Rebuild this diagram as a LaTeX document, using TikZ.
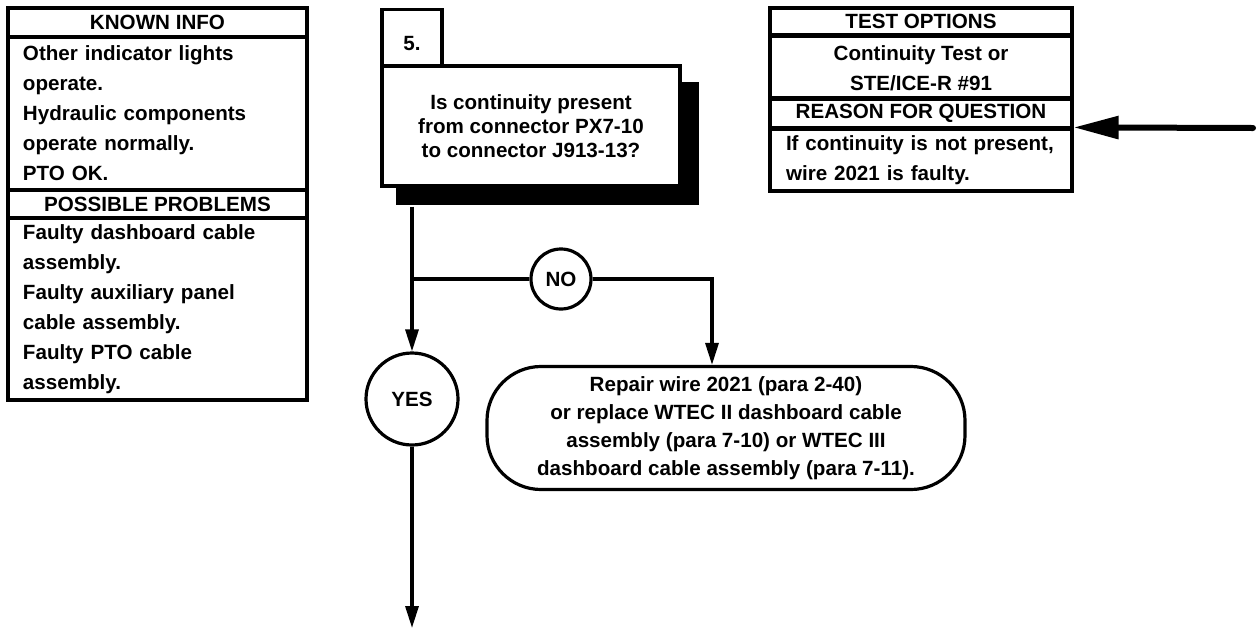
\documentclass[tikz,border=0pt]{standalone}
\usepackage{fontspec}
\setmainfont{Liberation Sans}
\usetikzlibrary{arrows.meta}
\begin{document}
\begin{tikzpicture}[x=1pt,y=-1pt, line width=3.2pt,
  every node/.style={font=\fontsize{20.6}{30}\selectfont\bfseries, inner sep=0pt},
  panel/.style={draw, rectangle},
  flowarrow/.style={-{Triangle[length=22pt,width=13pt]}},
  bigarrow/.style={line width=6pt, line cap=round, -{Triangle[length=45pt,width=22pt]}}]
\useasboundingbox (0,0) rectangle (1259,630);

% left column
\node[panel, minimum width=299pt, minimum height=29pt] (kih) at (157.5,22.5) {KNOWN INFO};
\node[panel, minimum width=299pt, minimum height=153pt, text width=269pt, align=left] (kib) at (157.5,113.5)
  {Other indicator lights\\operate.\\Hydraulic components\\operate normally.\\PTO OK.};
\node[panel, minimum width=299pt, minimum height=28pt] (pph) at (157.5,204) {POSSIBLE PROBLEMS};
\node[panel, minimum width=299pt, minimum height=182pt, text width=269pt, align=left] (ppb) at (157.5,309)
  {Faulty dashboard cable\\assembly.\\Faulty auxiliary panel\\cable assembly.\\Faulty PTO cable\\assembly.};

% right column
\node[panel, minimum width=302pt, minimum height=27pt] (toh) at (921,21.5) {TEST OPTIONS};
\node[panel, minimum width=302pt, minimum height=63pt, align=center] (tob) at (921,68)
  {Continuity Test or\\STE/ICE-R \#91};
\node[panel, minimum width=302pt, minimum height=30pt] (rqh) at (921,113) {REASON FOR QUESTION};
\node[panel, minimum width=302pt, minimum height=62pt, text width=270pt, align=left] (rqb) at (921,160)
  {If continuity is not present,\\wire 2021 is faulty.};
\coordinate (arrstart) at (1253,128);
\draw[bigarrow] (arrstart) -- (rqb.north east);

% question block
\node[fill=black, minimum width=303pt, minimum height=123pt] (qsh) at (547.5,143.5) {};
\node[panel, fill=white, minimum width=60pt, minimum height=67pt, anchor=north] (num) at (412,8) {5.};
\node[panel, fill=white, minimum width=298pt, minimum height=120pt, align=center,
  font=\fontsize{20.6}{24}\selectfont\bfseries] (q) at (531,126)
  {Is continuity present\\from connector PX7-10\\to connector J913-13?};

% decisions
\coordinate (j) at (412,279);
\node[draw, circle, minimum size=60pt, fill=white] (no) at (561,279) {NO};
\node[draw, circle, minimum size=92pt] (yes) at (412,399) {YES};
\node[draw, rounded corners=54pt, minimum width=478pt, minimum height=123pt, align=center,
  font=\fontsize{20.6}{28}\selectfont\bfseries] (fix) at (726,428)
  {Repair wire 2021 (para 2-40)\\or replace WTEC II dashboard cable\\assembly (para 7-10) or WTEC III\\dashboard cable assembly (para 7-11).};
\coordinate (endpt) at (412,628);

\draw (qsh.south -| j) -- (j);
\draw (j) -- (no);
\draw[flowarrow] (j) -- (yes);
\draw[flowarrow] (no) -| ([xshift=-14pt]fix.north);
\draw[flowarrow] (yes) -- (endpt);
\end{tikzpicture}
\end{document}
